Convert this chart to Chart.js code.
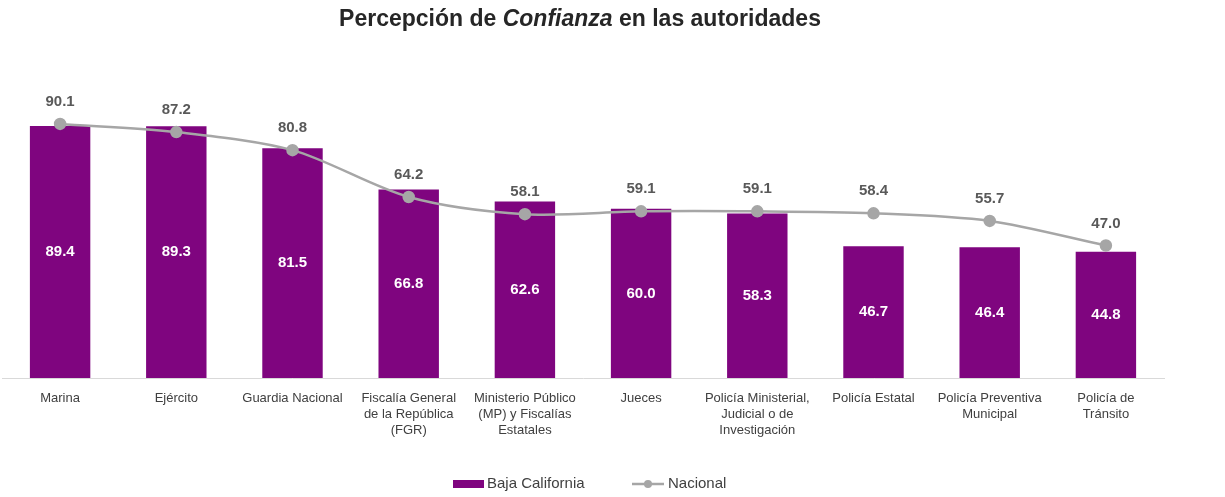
<!DOCTYPE html>
<html>
<head>
<meta charset="utf-8">
<script src="https://cdn.jsdelivr.net/npm/chart.js@4/dist/chart.umd.min.js"></script>
<style>
  body { margin: 0; background: #fff; }
  #wrap { width: 1225px; height: 497px; }
</style>
</head>
<body>
<div id="wrap"><canvas id="chart" width="1225" height="497"></canvas></div>
<script>
// ----- データ -----
const categories = [
    'Marina',
    'Ejército',
    'Guardia Nacional',
    ['Fiscalía General', 'de la República', '(FGR)'],
    ['Ministerio Público', '(MP) y Fiscalías', 'Estatales'],
    'Jueces',
    ['Policía Ministerial,', 'Judicial o de', 'Investigación'],
    'Policía Estatal',
    ['Policía Preventiva', 'Municipal'],
    ['Policía de', 'Tránsito']
];
const bajaCalifornia = [89.4, 89.3, 81.5, 66.8, 62.6, 60.0, 58.3, 46.7, 46.4, 44.8];
const nacional = [90.1, 87.2, 80.8, 64.2, 58.1, 59.1, 59.1, 58.4, 55.7, 47.0];

const PURPLE = '#7f057f';
const GRAY = '#a6a6a6';
const FONT = '"Liberation Sans", Arial, sans-serif';

// タイトル（Confianza だけイタリック）
const titlePlugin = {
    id: 'mixedTitle',
    afterDraw(chart) {
        const ctx = chart.ctx;
        const parts = [
            { text: 'Percepción de ', style: 'bold' },
            { text: 'Confianza', style: 'italic bold' },
            { text: ' en las autoridades', style: 'bold' }
        ];
        ctx.save();
        ctx.fillStyle = '#262626';
        ctx.textBaseline = 'middle';
        ctx.textAlign = 'left';
        let total = 0;
        parts.forEach(p => {
            ctx.font = p.style + ' 23px ' + FONT;
            p.w = ctx.measureText(p.text).width;
            total += p.w;
        });
        let x = 580 - total / 2;
        parts.forEach(p => {
            ctx.font = p.style + ' 23px ' + FONT;
            ctx.fillText(p.text, x, 20);
            x += p.w;
        });
        ctx.restore();
    }
};

// 値ラベル
const labelPlugin = {
    id: 'valueLabels',
    afterDatasetsDraw(chart) {
        const ctx = chart.ctx;
        ctx.save();
        ctx.textAlign = 'center';
        ctx.textBaseline = 'middle';
        ctx.font = 'bold 15px ' + FONT;
        // 棒の中央
        const barMeta = chart.getDatasetMeta(1);
        barMeta.data.forEach((bar, i) => {
            ctx.fillStyle = '#ffffff';
            ctx.fillText(bajaCalifornia[i].toFixed(1), bar.x, (bar.y + bar.base) / 2);
        });
        // 折れ線の上
        const lineMeta = chart.getDatasetMeta(0);
        lineMeta.data.forEach((pt, i) => {
            ctx.fillStyle = '#595959';
            ctx.fillText(nacional[i].toFixed(1), pt.x, pt.y - 22);
        });
        ctx.restore();
    }
};

// 凡例
const legendPlugin = {
    id: 'customLegend',
    afterDraw(chart) {
        const ctx = chart.ctx;
        const y = 484;
        ctx.save();
        ctx.font = '15px ' + FONT;
        ctx.textBaseline = 'middle';
        ctx.fillStyle = PURPLE;
        ctx.fillRect(453, y - 4, 31, 8);
        ctx.fillStyle = '#404040';
        ctx.fillText('Baja California', 487, y);
        ctx.strokeStyle = GRAY;
        ctx.lineWidth = 2.5;
        ctx.beginPath();
        ctx.moveTo(632, y);
        ctx.lineTo(664, y);
        ctx.stroke();
        ctx.fillStyle = GRAY;
        ctx.beginPath();
        ctx.arc(648, y, 4, 0, Math.PI * 2);
        ctx.fill();
        ctx.fillStyle = '#404040';
        ctx.fillText('Nacional', 668, y);
        ctx.restore();
    }
};

new Chart(document.getElementById('chart'), {
    data: {
        labels: categories,
        datasets: [
            {
                type: 'line',
                label: 'Nacional',
                data: nacional,
                borderColor: GRAY,
                borderWidth: 2.5,
                backgroundColor: GRAY,
                pointBackgroundColor: GRAY,
                pointBorderColor: GRAY,
                pointRadius: 5,
                tension: 0.3,
                order: 0
            },
            {
                type: 'bar',
                label: 'Baja California',
                data: bajaCalifornia,
                backgroundColor: PURPLE,
                barPercentage: 0.52,
                categoryPercentage: 1.0,
                order: 1
            }
        ]
    },
    options: {
        responsive: false,
        animation: false,
        layout: {
            autoPadding: false, // 点の半径ぶんの自動余白を無効化
            padding: { top: 96, left: 2, right: 61, bottom: 59 }
        },
        plugins: {
            legend: { display: false },
            tooltip: { enabled: false }
        },
        scales: {
            x: {
                grid: { display: false },
                border: { display: true, color: '#d9d9d9', width: 1 },
                ticks: {
                    color: '#404040',
                    font: { family: FONT, size: 13, lineHeight: 1.23 },
                    maxRotation: 0,
                    autoSkip: false,
                    padding: 4
                },
                afterFit(scale) {
                    scale.height = 60;
                    scale.paddingLeft = 0;
                    scale.paddingRight = 0;
                }
            },
            y: {
                display: false,
                min: 0,
                max: 100
            }
        }
    },
    plugins: [titlePlugin, labelPlugin, legendPlugin]
});
</script>
</body>
</html>
